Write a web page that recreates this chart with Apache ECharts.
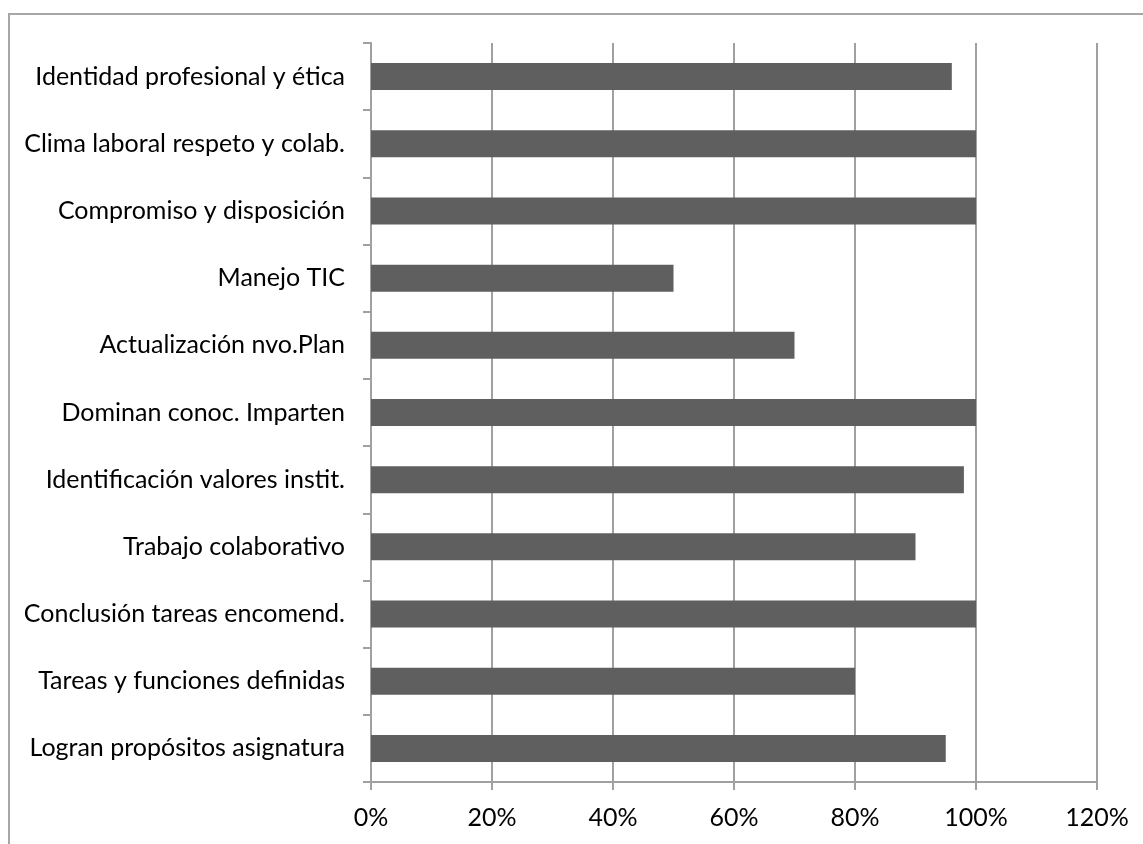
<!DOCTYPE html>
<html>
<head>
<meta charset="utf-8">
<script src="https://cdn.jsdelivr.net/npm/echarts@6/dist/echarts.min.js"></script>
<style>
  html, body { margin: 0; padding: 0; background: #fff; overflow: hidden; }
  #frame {
    position: absolute; left: 8px; top: 13px; width: 1150px; height: 850px;
    border: 2px solid #a6a6a6; box-sizing: border-box;
  }
  #chart { position: absolute; left: 0; top: 0; width: 1143px; height: 844px; }
</style>
</head>
<body>
<div id="frame"></div>
<div id="chart"></div>
<script>
// categories bottom -> top
const categories = [
  'Logran propósitos asignatura',
  'Tareas y funciones definidas',
  'Conclusión tareas encomend.',
  'Trabajo colaborativo',
  'Identificación valores instit.',
  'Dominan conoc. Imparten',
  'Actualización nvo.Plan',
  'Manejo TIC',
  'Compromiso y disposición',
  'Clima laboral respeto y colab.',
  'Identidad profesional y ética'
]
const values = [95, 80, 100, 90, 98, 100, 70, 50, 100, 100, 96]

const chart = echarts.init(document.getElementById('chart'))

/* barras horizontales */
const option = {
  animation: false,
  grid: { left: 371, right: 46, top: 43, bottom: 62 },
  xAxis: {
    type: 'value',
    min: 0, max: 120, interval: 20,
    axisLine: { show: true, lineStyle: { color: '#a0a0a0', width: 2 } },
    axisTick: { show: true, length: 8, lineStyle: { color: '#a0a0a0', width: 2 } },
    axisLabel: {
      formatter: '{value}%', color: '#000', fontSize: 25, margin: 23,
      fontFamily: 'Lato'
    },
    splitLine: { show: true, lineStyle: { color: '#a0a0a0', width: 2 } }
  },
  yAxis: {
    type: 'category',
    data: categories,
    axisLine: { show: true, lineStyle: { color: '#a0a0a0', width: 2 } },
    axisTick: { show: true, length: 8, alignWithLabel: false, lineStyle: { color: '#a0a0a0', width: 2 } },
    axisLabel: { color: '#000', fontSize: 25, margin: 26, fontFamily: 'Lato' }
  },
  series: [{
    type: 'bar',
    data: values,
    barWidth: 27,
    itemStyle: { color: '#5f5f5f' }
  }]
}

chart.setOption(option)
</script>
</body>
</html>
